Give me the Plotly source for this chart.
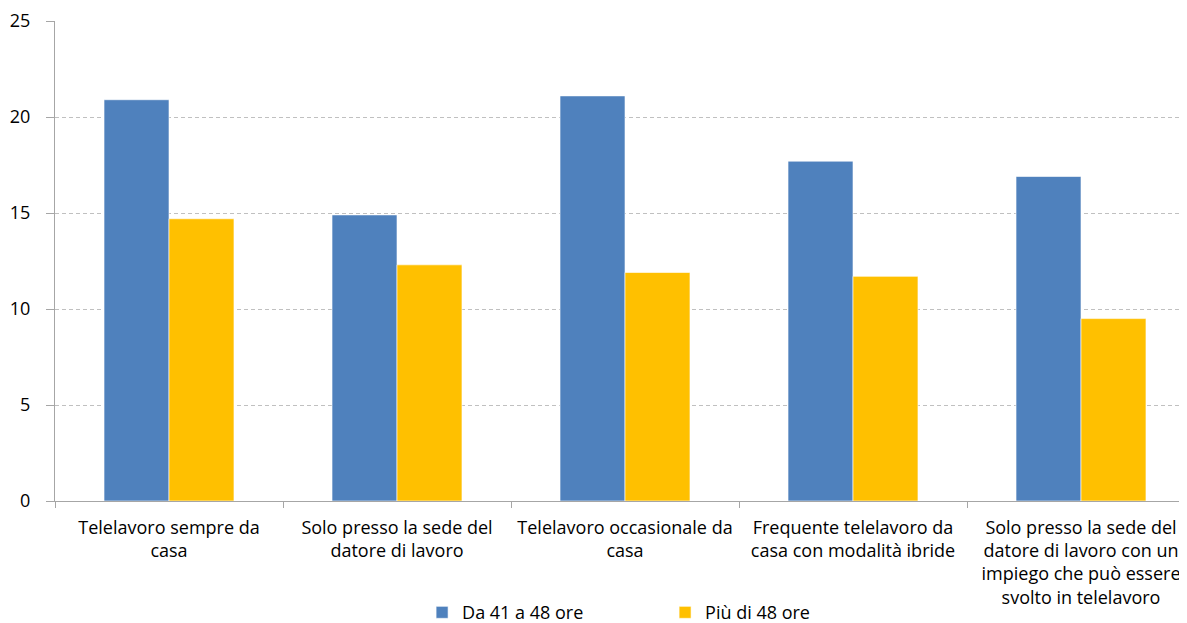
import plotly.graph_objects as go

categories = [
    "Telelavoro sempre da<br>casa",
    "Solo presso la sede del<br>datore di lavoro",
    "Telelavoro occasionale da<br>casa",
    "Frequente telelavoro da<br>casa con modalità ibride",
    "Solo presso la sede del<br>datore di lavoro con un<br>impiego che può essere<br>svolto in telelavoro",
]
series_names = ["Da 41 a 48 ore", "Più di 48 ore"]
da_41_48 = [20.9, 14.9, 21.1, 17.7, 16.9]
piu_48 = [14.7, 12.3, 11.9, 11.7, 9.5]
colors = ["#4F81BD", "#FFC000"]

fig = go.Figure()
for name, vals, col in zip(series_names, [da_41_48, piu_48], colors):
    fig.add_trace(go.Bar(
        x=categories, y=vals, name=name,
        marker=dict(color=col, line=dict(color="rgba(255,255,255,0.6)", width=1)),
    ))

fig.update_layout(
    width=1187, height=625,
    paper_bgcolor="white", plot_bgcolor="white",
    font=dict(family="Open Sans, Lato, sans-serif", size=18, color="#000000"),
    margin=dict(l=47, r=0, t=13, b=132, autoexpand=False),
    barmode="group", bargap=0.43, bargroupgap=0,
    legend=dict(orientation="h", x=0.322, xanchor="left", y=-0.194, yanchor="top",
                entrywidth=198, font=dict(size=18), itemwidth=30),
    showlegend=True,
)
fig.update_yaxes(
    range=[0, 25], dtick=5, showgrid=True, gridcolor="#C0C0C0", griddash="4px,3px",
    gridwidth=1, showline=True, linecolor="#A6A6A6", linewidth=1,
    ticks="outside", ticklen=8, tickcolor="#A6A6A6", zeroline=False,
    tickfont=dict(size=18), ticklabelstandoff=12, automargin=False,
)
fig.update_xaxes(
    showline=True, linecolor="#A6A6A6", linewidth=1, ticks="outside",
    tickson="boundaries", ticklen=6, tickcolor="#A6A6A6", tickfont=dict(size=18),
    tickangle=0, automargin=False, ticklabelstandoff=10,
)

fig.write_html("out.html")
